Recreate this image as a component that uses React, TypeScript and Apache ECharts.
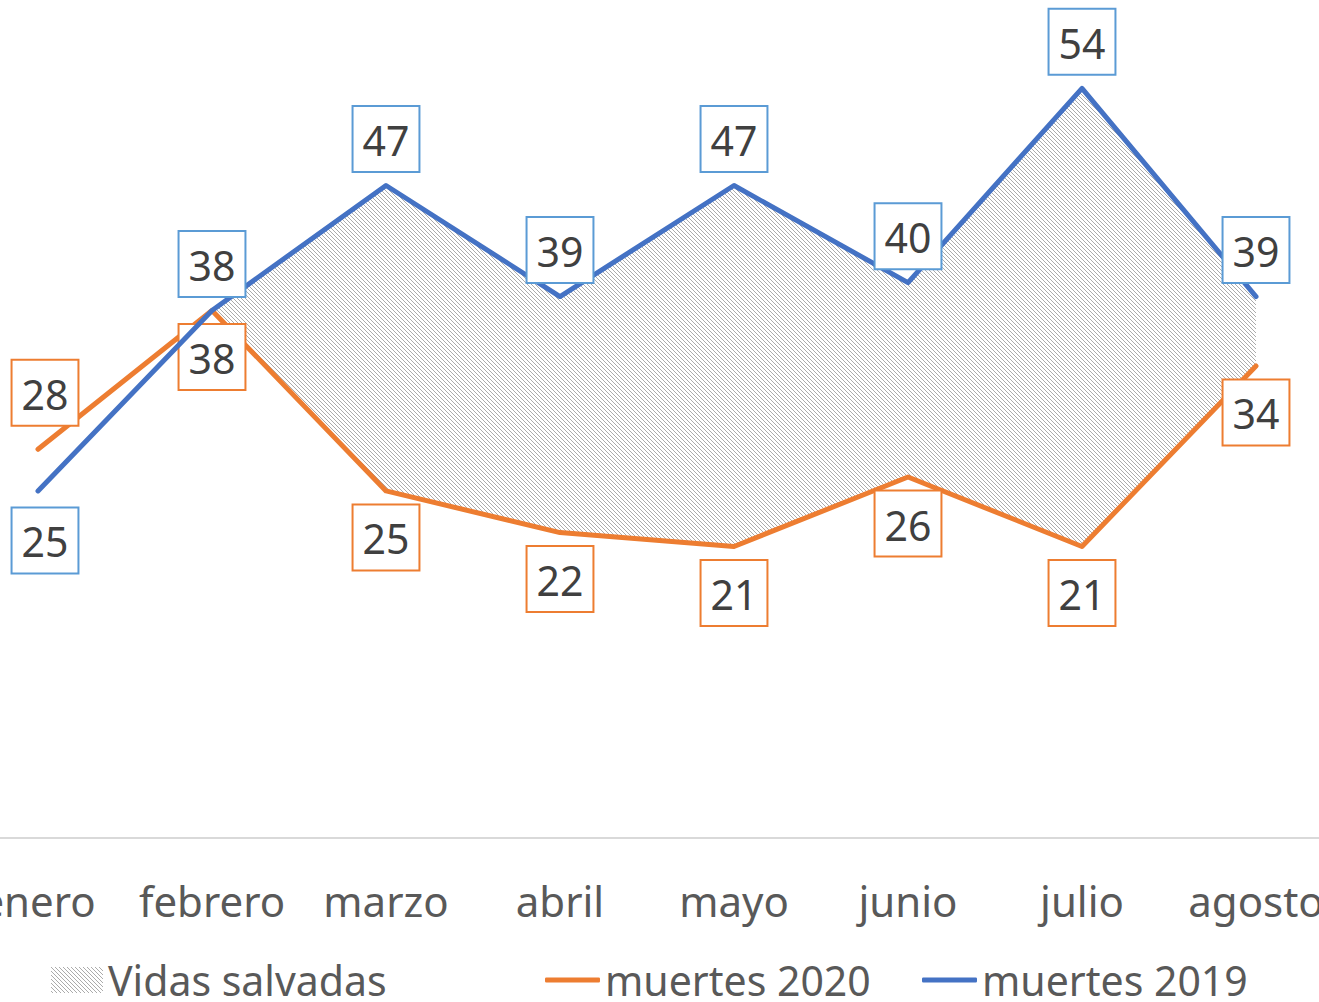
import React, { useEffect, useRef } from "react";
import * as echarts from "echarts";

const categories = ["enero", "febrero", "marzo", "abril", "mayo", "junio", "julio", "agosto"];
const muertes2019 = [25, 38, 47, 39, 47, 40, 54, 39];
const muertes2020 = [28, 38, 25, 22, 21, 26, 21, 34];
const vidasStart = 1; // area drawn from febrero onward

const FONT = "'Noto Sans', sans-serif";
const BLUE = "#4472C4";
const BLUE_BORDER = "#5B9BD5";
const ORANGE = "#ED7D31";
const TEXT = "#404040";

const SHIFT_LEFT = 49;
const CHART_W = 1319 + 49 + 24;

function makeHatch(): HTMLCanvasElement {
  const c = document.createElement("canvas");
  c.width = 4;
  c.height = 4;
  const ctx = c.getContext("2d")!;
  ctx.fillStyle = "#ffffff";
  ctx.fillRect(0, 0, 4, 4);
  ctx.fillStyle = "#ababab";
  for (let i = 0; i < 4; i++) ctx.fillRect(i, i, 1, 1);
  return c;
}

export default function App() {
  const ref = useRef<HTMLDivElement>(null);
  useEffect(() => {
    const chart = echarts.init(ref.current!, null, { renderer: "svg" });
    const hatch = { image: makeHatch(), repeat: "repeat", imageWidth: 4, imageHeight: 4 } as any;

    const base = muertes2020.map((v, i) => (i >= vidasStart ? v : "-"));
    const vidas = muertes2019.map((v, i) => (i >= vidasStart ? v - muertes2020[i] : "-"));

    const labelBox = (border: string) => ({
      show: true,
      color: TEXT,
      fontFamily: FONT,
      fontSize: 41,
      lineHeight: 42,
      backgroundColor: "#fff",
      borderColor: border,
      borderWidth: 2,
      padding: [12, 9, 10, 9],
      distance: 14,
    });

    const data2019 = muertes2019.map((v, i) =>
      i === 0
        ? { value: v, label: { position: "bottom", distance: 17, offset: [7, 0] } }
        : { value: v, label: { position: "top" } }
    );
    const data2020 = muertes2020.map((v, i) =>
      i === 0
        ? { value: v, label: { position: "top", distance: 24, offset: [7, 0] } }
        : { value: v, label: { position: "bottom" } }
    );

    const legendText = { color: "#595959", fontFamily: FONT, fontSize: 41, lineHeight: 44 };

    chart.setOption({
      animation: false,
      grid: { left: 0, right: 0, top: 5, bottom: 164, containLabel: false },
      xAxis: {
        type: "category",
        data: categories,
        boundaryGap: true,
        axisLine: { show: true, lineStyle: { color: "#D9D9D9", width: 2 } },
        axisTick: { show: false },
        axisLabel: { color: "#595959", fontFamily: FONT, fontSize: 42, margin: 41, interval: 0 },
      },
      yAxis: {
        type: "value",
        min: 0,
        max: 60,
        show: false,
        splitLine: { show: false },
      },
      legend: [
        {
          left: 51 + SHIFT_LEFT,
          top: 958,
          padding: 0,
          itemWidth: 52,
          itemHeight: 26,
          itemGap: 7,
          textStyle: legendText,
          data: [{ name: "Vidas salvadas", icon: "rect", itemStyle: { color: hatch, borderWidth: 0 } }],
        },
        {
          left: 545 + SHIFT_LEFT,
          top: 958,
          padding: 0,
          itemWidth: 55,
          itemHeight: 5,
          textStyle: legendText,
          data: [{ name: "muertes 2020", icon: "roundRect", itemStyle: { color: ORANGE } }],
        },
        {
          left: 922 + SHIFT_LEFT,
          top: 958,
          padding: 0,
          itemWidth: 55,
          itemHeight: 5,
          textStyle: legendText,
          data: [{ name: "muertes 2019", icon: "roundRect", itemStyle: { color: BLUE } }],
        },
      ],
      series: [
        {
          name: "base",
          type: "line",
          stack: "v",
          data: base,
          symbol: "none",
          lineStyle: { opacity: 0 },
          silent: true,
          z: 1,
        },
        {
          name: "Vidas salvadas",
          type: "line",
          stack: "v",
          data: vidas,
          symbol: "none",
          lineStyle: { opacity: 0, width: 0 },
          itemStyle: { color: "#999" },
          areaStyle: { color: hatch, opacity: 1 },
          silent: true,
          z: 1,
        },
        {
          name: "muertes 2020",
          type: "line",
          data: data2020,
          symbol: "circle",
          symbolSize: 1,
          itemStyle: { color: ORANGE },
          lineStyle: { color: ORANGE, width: 5, cap: "round", join: "round" },
          label: labelBox(ORANGE),
          z: 3,
        },
        {
          name: "muertes 2019",
          type: "line",
          data: data2019,
          symbol: "circle",
          symbolSize: 1,
          itemStyle: { color: BLUE },
          lineStyle: { color: BLUE, width: 5, cap: "round", join: "round" },
          label: labelBox(BLUE_BORDER),
          z: 4,
        },
      ],
    });
    return () => chart.dispose();
  }, []);

  return (
    <div
      style={{
        position: "absolute",
        left: 0,
        top: 0,
        width: 1319,
        height: 1002,
        overflow: "hidden",
        background: "#fff",
      }}
    >
      <div
        ref={ref}
        style={{ position: "absolute", left: -SHIFT_LEFT, top: 0, width: CHART_W, height: 1002 }}
      />
    </div>
  );
}
